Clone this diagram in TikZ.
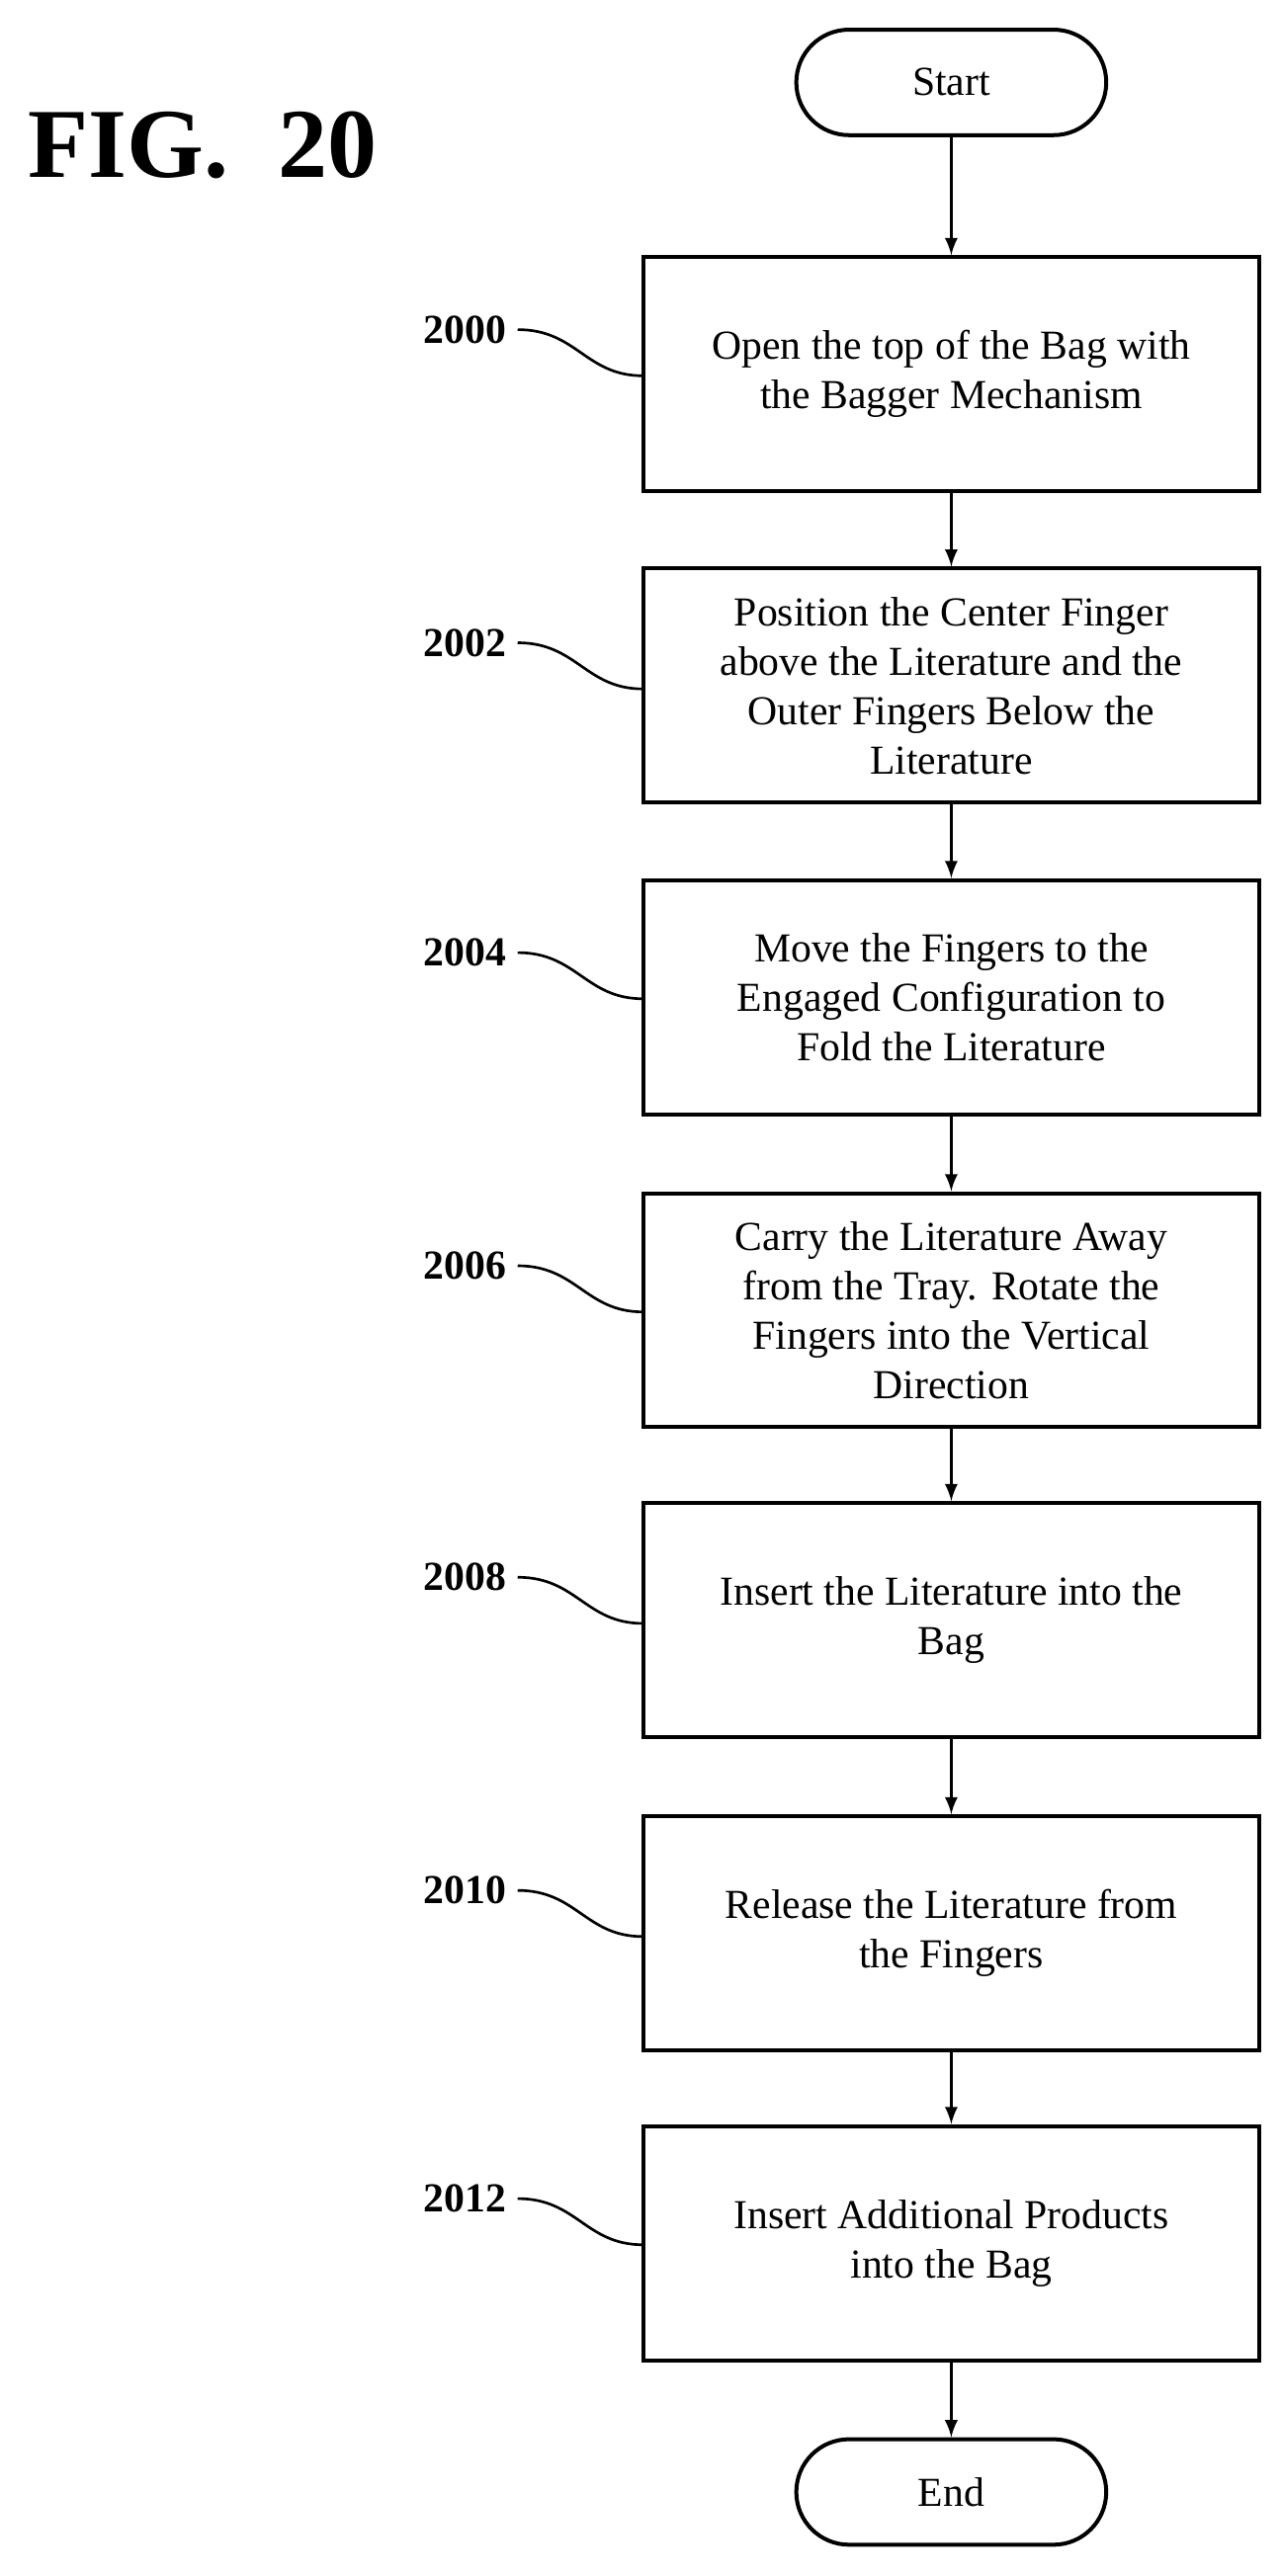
\documentclass[tikz,border=0pt]{standalone}
\usepackage{fontspec}
\setmainfont{Liberation Serif}
\begin{document}
\begin{tikzpicture}[x=0.5pt,y=-0.5pt,
 box/.style={draw,line width=1.2pt,minimum width=187pt,minimum height=71pt,align=center,font=\fontsize{12.5}{15}\selectfont,inner sep=2pt},
 term/.style={draw,line width=1.2pt,rounded corners=16pt,minimum width=94pt,minimum height=32pt,font=\fontsize{12.5}{15}\selectfont},
 lab/.style={font=\bfseries\fontsize{12.5}{15}\selectfont,anchor=east},
 arr/.style={-latex,line width=0.8pt},
 lead/.style={line width=0.8pt}]
\useasboundingbox (0,0) rectangle (777,1563);
\node[font=\bfseries\fontsize{30}{34}\selectfont,anchor=west] (fig) at (10,88) {FIG.\ \ 20};
\node[term] (s) at (577,50) {Start};
\node[box] (b0) at (577,227) {Open the top of the Bag with\\the Bagger Mechanism};
\node[box] (b1) at (577,416) {Position the Center Finger\\above the Literature and the\\Outer Fingers Below the\\Literature};
\node[box] (b2) at (577,605) {Move the Fingers to the\\Engaged Configuration to\\Fold the Literature};
\node[box] (b3) at (577,795) {Carry the Literature Away\\from the Tray. Rotate the\\Fingers into the Vertical\\Direction};
\node[box] (b4) at (577,983) {Insert the Literature into the\\Bag};
\node[box] (b5) at (577,1173) {Release the Literature from\\the Fingers};
\node[box] (b6) at (577,1361) {Insert Additional Products\\into the Bag};
\node[term] (e) at (577,1512) {End};
\draw[arr] (s) -- (b0);
\draw[arr] (b0) -- (b1);
\draw[arr] (b1) -- (b2);
\draw[arr] (b2) -- (b3);
\draw[arr] (b3) -- (b4);
\draw[arr] (b4) -- (b5);
\draw[arr] (b5) -- (b6);
\draw[arr] (b6) -- (e);
\foreach \n/\t/\y in {b0/2000/200,b1/2002/390,b2/2004/578,b3/2006/768,b4/2008/957,b5/2010/1147,b6/2012/1334}{
 \node[lab] (l\n) at (314,\y) {\t};
 \draw[lead] (l\n.east) .. controls (350,\y) and (355,\y+28) .. (390,\y+28);
}
\end{tikzpicture}
\end{document}
